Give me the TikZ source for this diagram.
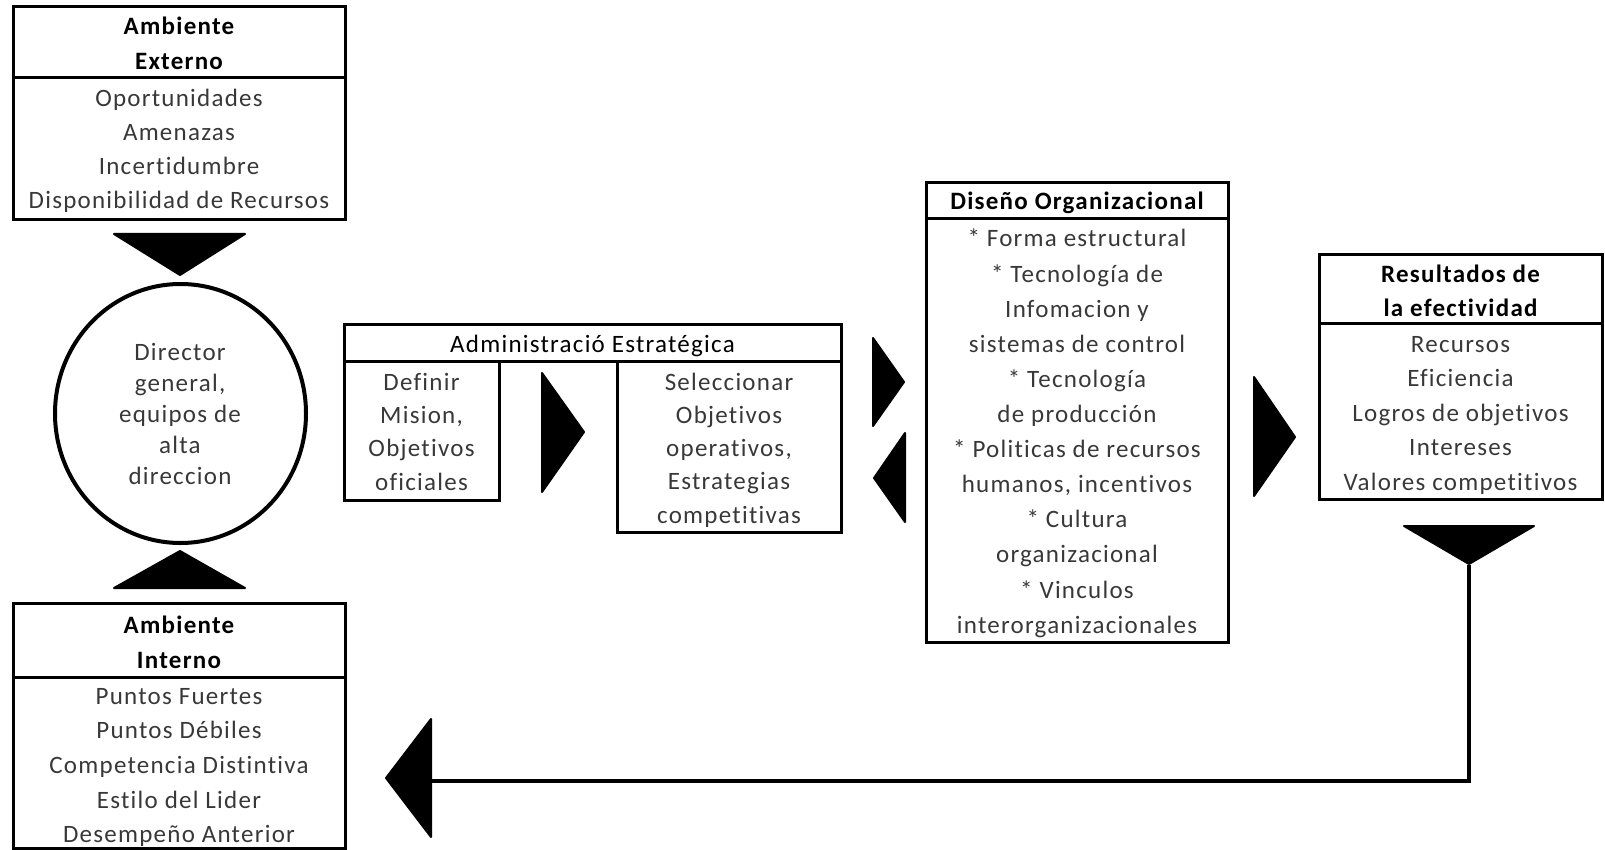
\documentclass[tikz,border=0pt]{standalone}
\usepackage{fontspec}
\setmainfont{Carlito}[LetterSpace=5, Ligatures=NoCommon, RawFeature={-liga;-clig;-dlig}]
\usetikzlibrary{fit,shapes.geometric}

% one named node per text row: name, x, first baseline, row step, style, rows
\newcommand\rowsat[6]{%
  \foreach \t [count=\i] in {#6} {\node[#5] (#1-\i) at (#2, {#3+(\i-1)*#4}) {\t};}}

\begin{document}
\begin{tikzpicture}[x=1pt,y=-1pt,
  frame/.style={draw=black, line width=3pt, inner sep=0pt, outer sep=0pt},
  txt/.style={anchor=base, inner sep=0pt, font=\fontsize{25}{30}\selectfont, text=black!78},
  headtxt/.style={anchor=base, inner sep=0pt, font=\fontsize{25}{30}\selectfont\bfseries, text=black},
  titletxt/.style={anchor=base, inner sep=0pt, font=\fontsize{25}{30}\selectfont, text=black},
  tri/.style={fill=black, draw=black, line width=2pt, line join=round},
  feedback/.style={draw=black, line width=3.5pt},
]
\useasboundingbox (0,0) rectangle (1605,850);

% ---- Ambiente Externo ----
\node[frame, fit={(13,7) (345,78)}] (exthead) {};
\node[frame, fit={(13,78) (345,220)}] (extbody) {};
\rowsat{exth}{179}{35}{35}{headtxt}{Ambiente, Externo}
\rowsat{extb}{179}{107}{34}{txt}{Oportunidades, Amenazas, Incertidumbre, Disponibilidad de Recursos}

% ---- Director general ----
\node[ellipse, draw=black, line width=4pt, minimum width=251pt, minimum height=259pt, inner sep=0pt] (dir) at (180.5,413.5) {};
\rowsat{dirt}{180}{360}{31}{txt}{Director, {general,}, equipos de, alta, direccion}

% ---- Ambiente Interno ----
\node[frame, fit={(13,603) (345,677)}] (inthead) {};
\node[frame, fit={(13,677) (345,848)}] (intbody) {};
\rowsat{inth}{179}{633}{35}{headtxt}{Ambiente, Interno}
\rowsat{intb}{179}{704}{34.7}{txt}{Puntos Fuertes, Puntos Débiles, Competencia Distintiva, Estilo del Lider, Desempeño Anterior}

% ---- Administración estratégica ----
\node[frame, fit={(344,324) (841,361)}] (admhead) {};
\node[frame, fit={(344,361) (499,500)}] (admleft) {};
\node[frame, fit={(617,361) (841,532)}] (admright) {};
\node[titletxt] (admtitle) at (592.5,352) {Administració Estratégica};
\rowsat{adml}{421.5}{390}{33.4}{txt}{Definir, {Mision,}, Objetivos, oficiales}
\rowsat{admr}{729}{390}{33.3}{txt}{Seleccionar, Objetivos, {operativos,}, Estrategias, competitivas}

% ---- Diseño Organizacional ----
\node[frame, fit={(926,183) (1228,219)}] (dishead) {};
\node[frame, fit={(926,219) (1228,642)}] (disbody) {};
\node[headtxt] (distitle) at (1077,210) {Diseño Organizacional};
\rowsat{disb}{1077}{247}{35.1}{txt}{* Forma estructural, * Tecnología de, Infomacion y, sistemas de control, * Tecnología, de producción, * Politicas de recursos, {humanos, incentivos}, * Cultura, organizacional, * Vinculos, interorganizacionales}

% ---- Resultados de la efectividad ----
\node[frame, fit={(1319,255) (1602,323)}] (reshead) {};
\node[frame, fit={(1319,323) (1602,499)}] (resbody) {};
\rowsat{resh}{1460.5}{283}{33}{headtxt}{Resultados de, la efectividad}
\rowsat{resb}{1460.5}{352}{34.5}{txt}{Recursos, Eficiencia, Logros de objetivos, Intereses, Valores competitivos}

% ---- block arrows ----
\fill[tri] (114,234) -- (245,234) -- (180,275) -- cycle;   % entorno externo -> director
\fill[tri] (180,551) -- (245,588) -- (114,588) -- cycle;   % entorno interno -> director
\fill[tri] (542,373) -- (584,432) -- (542,492) -- cycle;   % misión -> objetivos
\fill[tri] (873,338) -- (904,382) -- (873,426) -- cycle;   % estrategia -> diseño
\fill[tri] (905,433) -- (874,478) -- (905,522) -- cycle;   % diseño -> estrategia
\fill[tri] (1254,377) -- (1295,437) -- (1254,496) -- cycle; % diseño -> resultados
\fill[tri] (1404,526) -- (1534,526) -- (1469,564) -- cycle; % resultados -> retroalimentación
\fill[tri] (431,719) -- (386,778) -- (431,837) -- cycle;    % retroalimentación -> entorno interno

% ---- feedback line ----
\coordinate (fbtop) at (1469,565);
\coordinate (fbend) at (430,781);
\draw[feedback] (fbtop) |- (fbend);
\end{tikzpicture}
\end{document}
